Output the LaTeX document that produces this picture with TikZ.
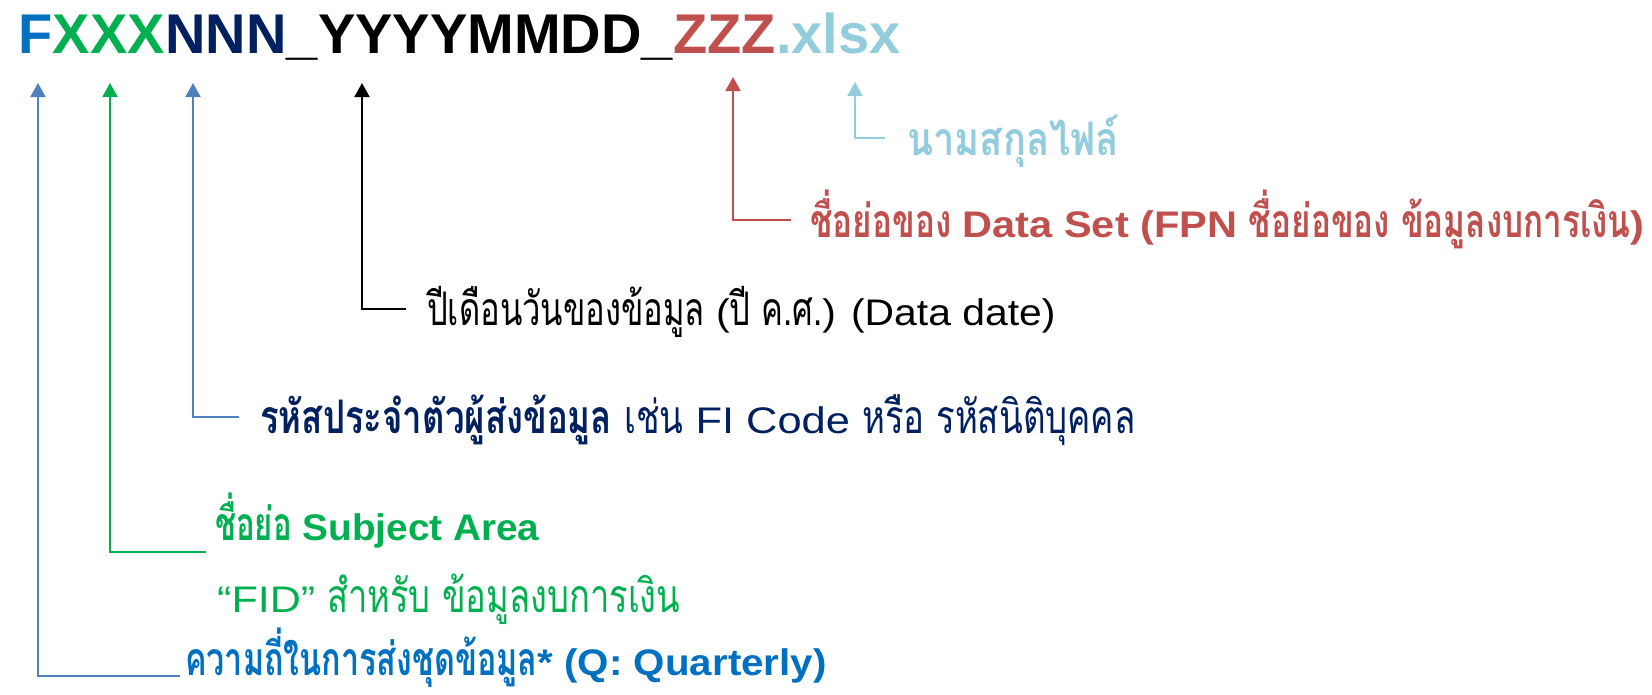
\documentclass[tikz,border=0pt]{standalone}
\usepackage{fontspec}
\usepackage{graphicx}
\setmainfont{Liberation Sans}
\newfontfamily\thaifont[Script=Thai,Scale=1.25,FakeStretch=0.66]{Loma}
\newfontfamily\latfont[FakeStretch=1.03]{Liberation Sans}
\usetikzlibrary{arrows.meta}
\definecolor{cF}{HTML}{0070C0}
\definecolor{cGreen}{HTML}{00B050}
\definecolor{cNavy}{HTML}{002060}
\definecolor{cRed}{HTML}{C0504D}
\definecolor{cLight}{HTML}{93CDDD}
\definecolor{cSteel}{HTML}{4F81BD}
\newcommand\thx[1]{{\thaifont #1}}
\newcommand\sx[2]{\scalebox{#1}[1]{#2}}
\tikzset{
  tpart/.style={inner sep=0pt, anchor=base west, font=\fontsize{56}{60}\selectfont\bfseries},
  lbl/.style={inner sep=0pt, anchor=base west, font=\fontsize{37}{40}\selectfont\latfont},
  lblb/.style={lbl, font=\fontsize{37}{40}\selectfont\latfont\bfseries},
  conn/.style={line width=2pt, -{Triangle[width=15pt,length=14pt]}},
}
\begin{document}
\begin{tikzpicture}[x=1pt,y=-1pt]
\useasboundingbox (0,0) rectangle (1652,694);
% title
\node[tpart, text=cF] (tF) at (18,53) {F};
\node[tpart, text=cGreen] (tX) at (tF.base east) {XXX};
\node[tpart, text=cNavy] (tN) at (tX.base east) {NNN};
\node[tpart, text=black] (tY) at (tN.base east) {\_YYYYMMDD\_};
\node[tpart, text=cRed] (tZ) at (tY.base east) {ZZZ};
\node[tpart, text=cLight] (tL) at (tZ.base east) {.xlsx};
% tips
\coordinate (pF) at (38,83);
\coordinate (pX) at (110,83);
\coordinate (pN) at (193,83);
\coordinate (pY) at (362,83);
\coordinate (pZ) at (733,77);
\coordinate (pL) at (855,82);
% labels
\node[lblb, text=cLight] (lL) at (907,155) {\sx{1.25}{\thx{นามสกุลไฟล์}}};
\node[lblb, text=cRed] (lZ) at (810,237) {\sx{1.09}{\thx{ชื่อย่อของ} Data Set (FPN \thx{ชื่อย่อของ ข้อมูลงบการเงิน})}};
\node[lbl, text=black] (lY) at (427,325) {\sx{1.072}{\thx{ปีเดือนวันของข้อมูล} (\thx{ปี ค.ศ.}) (Data date)}};
\node[lbl, text=cNavy] (lN) at (260,433) {\sx{1.14}{{\bfseries\thx{รหัสประจำตัวผู้ส่งข้อมูล}} \thx{เช่น} FI Code \thx{หรือ รหัสนิติบุคคล}}};
\node[lblb, text=cGreen] (lX) at (215,540) {\sx{1.017}{\thx{ชื่อย่อ} Subject Area}};
\node[lbl, text=cGreen] (lX2) at (217,612) {\sx{1.13}{“FID” \thx{สำหรับ ข้อมูลงบการเงิน}}};
\node[lblb, text=cF] (lF) at (185,675) {\sx{1.058}{\thx{ความถี่ในการส่งชุดข้อมูล}* (Q: Quarterly)}};
% connectors
\draw[conn, cLight] ([shift={(-22,-17)}]lL.base west) -| (pL);
\draw[conn, cRed] ([shift={(-19,-17)}]lZ.base west) -| (pZ);
\draw[conn, black] ([shift={(-21,-16)}]lY.base west) -| (pY);
\draw[conn, cSteel] ([shift={(-21,-16)}]lN.base west) -| (pN);
\draw[conn, cGreen] ([shift={(-9,12)}]lX.base west) -| (pX);
\draw[conn, cSteel] ([shift={(-5,1)}]lF.base west) -| (pF);
\end{tikzpicture}
\end{document}
